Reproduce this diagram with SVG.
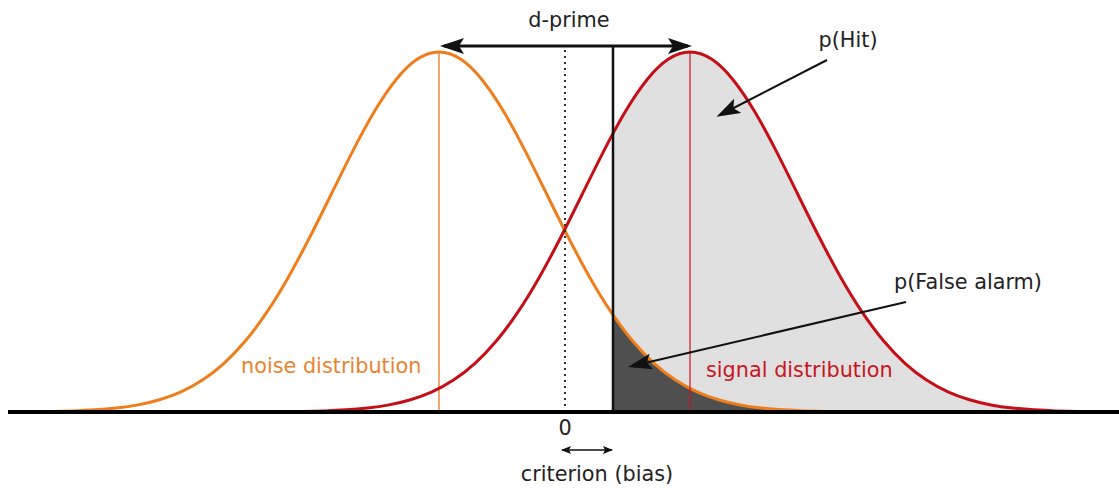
<svg xmlns="http://www.w3.org/2000/svg" xmlns:xlink="http://www.w3.org/1999/xlink" width="1119" height="493" viewBox="0 0 1119 493">
<style>
  text { font-family: "DejaVu Sans", Verdana, sans-serif; font-size: 20.8px; fill: #222; }
  .noiseTxt { fill: #E8842F; }
  .signalTxt { fill: #C8141C; }
  .conn { stroke: #111; fill: none; }
</style>
<defs>
  <path id="gauss" d="M-387,411.45 C-379.83,411.32 -372.67,411.15 -365.5,410.9 C-358.33,410.65 -351.17,410.31 -344,409.85 C-336.83,409.39 -329.67,408.8 -322.5,408 C-315.33,407.2 -308.17,406.23 -301,404.9 C-293.83,403.58 -286.67,401.83 -279.5,399.7 C-272.33,397.57 -265.17,395.03 -258,391.8 C-250.83,388.57 -243.67,384.69 -236.5,380 C-229.33,375.31 -222.17,369.79 -215,363.3 C-207.83,356.81 -200.67,349.34 -193.5,340.8 C-186.33,332.26 -179.17,322.58 -172,311.9 C-164.83,301.22 -157.67,289.51 -150.5,276.9 C-143.33,264.29 -136.17,250.82 -129,236.8 C-121.83,222.78 -114.67,208.25 -107.5,193.7 C-100.33,179.15 -93.17,164.54 -86,150.6 C-78.83,136.66 -71.67,123.33 -64.5,111.3 C-57.33,99.27 -50.17,88.56 -43,79.7 C-35.83,70.84 -28.67,63.81 -21.5,59.1 C-14.33,54.39 -7.17,52 0,52 C7.17,52 14.33,54.39 21.5,59.1 C28.67,63.81 35.83,70.84 43,79.7 C50.17,88.56 57.33,99.27 64.5,111.3 C71.67,123.33 78.83,136.66 86,150.6 C93.17,164.54 100.33,179.15 107.5,193.7 C114.67,208.25 121.83,222.78 129,236.8 C136.17,250.82 143.33,264.29 150.5,276.9 C157.67,289.51 164.83,301.22 172,311.9 C179.17,322.58 186.33,332.26 193.5,340.8 C200.67,349.34 207.83,356.81 215,363.3 C222.17,369.79 229.33,375.31 236.5,380 C243.67,384.69 250.83,388.57 258,391.8 C265.17,395.03 272.33,397.57 279.5,399.7 C286.67,401.83 293.83,403.58 301,404.9 C308.17,406.23 315.33,407.2 322.5,408 C329.67,408.8 336.83,409.39 344,409.85 C351.17,410.31 358.33,410.65 365.5,410.9 C372.67,411.15 379.83,411.32 387,411.45"/>
  <clipPath id="right"><rect x="613" y="0" width="506" height="412"/></clipPath>
  <marker id="ah" viewBox="0 0 24 16" refX="20" refY="8" markerWidth="24" markerHeight="16" orient="auto-start-reverse" markerUnits="userSpaceOnUse">
    <path d="M0,0 L24,8 L0,16 L5,8 Z" fill="#111"/>
  </marker>
  <marker id="ahs" viewBox="0 0 10 8" refX="9" refY="4" markerWidth="10" markerHeight="8" orient="auto-start-reverse" markerUnits="userSpaceOnUse">
    <path d="M0,0 L10,4 L0,8 L2,4 Z" fill="#111"/>
  </marker>
</defs>

<g id="areas">
  <g clip-path="url(#right)">
    <use xlink:href="#gauss" href="#gauss" transform="translate(690,0)" fill="#E0E0E0" stroke="none"/>
    <use xlink:href="#gauss" href="#gauss" transform="translate(439,0)" fill="#4F4F4F" stroke="none"/>
  </g>
</g>

<g id="noise">
  <line x1="439" y1="52" x2="439" y2="412" stroke="#ED8A3A" stroke-width="1.5"/>
  <use xlink:href="#gauss" href="#gauss" transform="translate(439,0)" fill="none" stroke="#EE7E1C" stroke-width="3"/>
</g>

<g id="signal">
  <line x1="690" y1="52" x2="690" y2="412" stroke="#C8141C" stroke-width="1.2"/>
  <use xlink:href="#gauss" href="#gauss" transform="translate(690,0)" fill="none" stroke="#C50F16" stroke-width="3"/>
</g>

<g id="criterion">
  <line x1="565" y1="50" x2="565" y2="410" stroke="#333" stroke-width="2" stroke-dasharray="2 4"/>
  <line x1="613" y1="46" x2="613" y2="412" stroke="#111" stroke-width="2.5"/>
</g>

<g id="axis">
  <line x1="8" y1="412" x2="1119" y2="412" stroke="#000" stroke-width="4"/>
</g>

<g id="connectors">
  <line class="conn" x1="444" y1="46" x2="688" y2="46" stroke-width="3" marker-start="url(#ah)" marker-end="url(#ah)"/>
  <line class="conn" x1="827" y1="60" x2="720" y2="115" stroke-width="2" marker-end="url(#ah)"/>
  <line class="conn" x1="906" y1="302" x2="632" y2="366" stroke-width="2" marker-end="url(#ah)"/>
  <line class="conn" x1="562" y1="450" x2="612" y2="450" stroke-width="1.5" marker-start="url(#ahs)" marker-end="url(#ahs)"/>
</g>

<g id="labels">
  <text x="569" y="27" text-anchor="middle">d-prime</text>
  <text x="848" y="47" text-anchor="middle">p(Hit)</text>
  <text x="968" y="289" text-anchor="middle">p(False alarm)</text>
  <text class="noiseTxt" x="241" y="373">noise distribution</text>
  <text class="signalTxt" x="706" y="377">signal distribution</text>
  <text x="565" y="435" text-anchor="middle">0</text>
  <text x="597" y="481" text-anchor="middle">criterion (bias)</text>
</g>
</svg>
